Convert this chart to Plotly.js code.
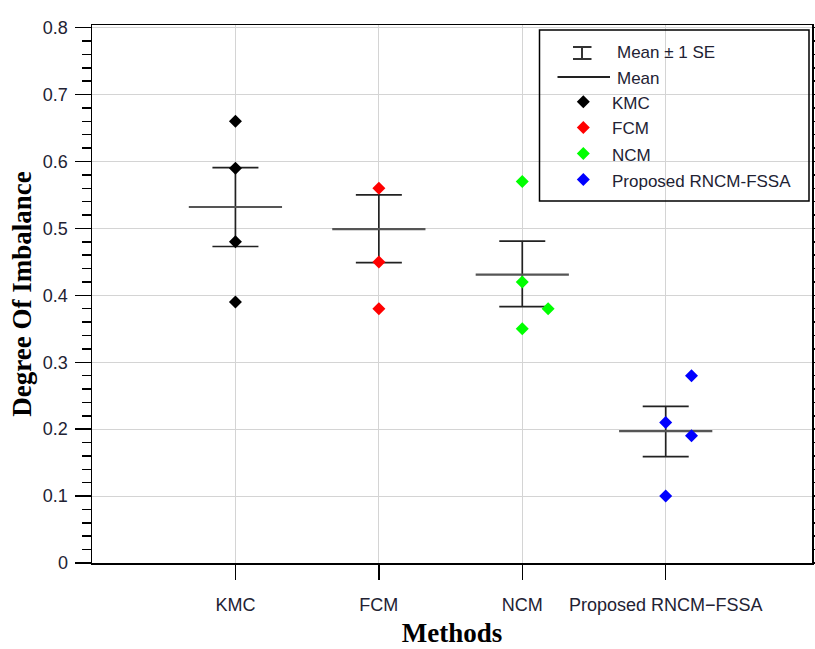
<!DOCTYPE html>
<html><head><meta charset="utf-8">
<script src="https://cdn.plot.ly/plotly-3.0.1.min.js"></script>
<style>html,body{margin:0;padding:0;background:#fff}#chart{width:815px;height:649px}</style>
</head><body><div id="chart"></div>
<script>
// ---- data ----
const categories = ["KMC", "FCM", "NCM", "Proposed RNCM\u2212FSSA"];
const legendNames = ["KMC", "FCM", "NCM", "Proposed RNCM-FSSA"];
const kmcValues = [0.66, 0.59, 0.48, 0.39];
const kmcJitter = [0, 0, 0, 0];
const fcmValues = [0.56, 0.45, 0.38];
const fcmJitter = [0, 0, 0];
const ncmValues = [0.57, 0.42, 0.38, 0.35];
const ncmJitter = [0, 0, 0.18, 0];
const rncmValues = [0.28, 0.21, 0.19, 0.10];
const rncmJitter = [0.18, 0, 0.18, 0];
const meanValues = [0.532, 0.499, 0.431, 0.197];
const seUpper = [0.591, 0.550, 0.481, 0.234];
const seLower = [0.473, 0.449, 0.383, 0.159];
const yTickVals = [0, 0.1, 0.2, 0.3, 0.4, 0.5, 0.6, 0.7, 0.8];
const yTickText = ["0", "0.1", "0.2", "0.3", "0.4", "0.5", "0.6", "0.7", "0.8"];

// ---- styles ----
const colors = ["#000000", "#ff0000", "#00ff00", "#0000ff"];
const sansFont = "Liberation Sans, Arial, sans-serif";
const serifFont = "Liberation Serif, Times New Roman, serif";
const textColor = "#222233";

const series = [
  {vals: kmcValues, jit: kmcJitter},
  {vals: fcmValues, jit: fcmJitter},
  {vals: ncmValues, jit: ncmJitter},
  {vals: rncmValues, jit: rncmJitter}
];

const traces = [];
// mean line + SE error bars
traces.push({
  type: "scatter", mode: "markers",
  x: categories.map((c, i) => i + 1),
  y: meanValues,
  marker: {size: 1, color: "rgba(0,0,0,0)"},
  error_y: {type: "data", symmetric: false,
    array: seUpper.map((u, i) => u - meanValues[i]),
    arrayminus: seLower.map((l, i) => meanValues[i] - l),
    color: "#222222", thickness: 1.7, width: 23},
  error_x: {type: "constant", value: 0.325, color: "#555555", thickness: 2.2, width: 0},
  showlegend: false, hoverinfo: "skip"
});
series.forEach((s, k) => {
  traces.push({
    type: "scatter", mode: "markers", name: legendNames[k],
    x: s.vals.map((v, j) => k + 1 + s.jit[j]),
    y: s.vals,
    marker: {symbol: "diamond", size: 10, color: colors[k]},
    showlegend: false
  });
});

// ---- manual legend (pixel -> paper helpers) ----
const ML = 92, MT = 25, PW = 720, PH = 538;
const px = x => (x - ML) / PW;
const py = y => (MT + PH - y) / PH;
const shapes = [];
const annotations = [];
shapes.push({type: "rect", xref: "paper", yref: "paper", x0: px(539.5), x1: px(809), y0: py(201), y1: py(30),
  line: {color: "#000", width: 1.5}, fillcolor: "rgba(0,0,0,0)", layer: "above"});
// I-beam symbol
shapes.push({type: "line", xref: "paper", yref: "paper", x0: px(582), x1: px(582), y0: py(47), y1: py(59), line: {color: "#333", width: 2}});
shapes.push({type: "line", xref: "paper", yref: "paper", x0: px(573), x1: px(591.5), y0: py(47), y1: py(47), line: {color: "#333", width: 2}});
shapes.push({type: "line", xref: "paper", yref: "paper", x0: px(573), x1: px(591.5), y0: py(59), y1: py(59), line: {color: "#333", width: 2}});
annotations.push({xref: "paper", yref: "paper", x: px(615), y: py(53), xanchor: "left", yanchor: "middle", showarrow: false,
  text: "Mean \u00b1 1 SE", font: {family: sansFont, size: 17, color: textColor}});
// mean line symbol
shapes.push({type: "line", xref: "paper", yref: "paper", x0: px(557.5), x1: px(610), y0: py(77), y1: py(77), line: {color: "#222", width: 2}});
annotations.push({xref: "paper", yref: "paper", x: px(615), y: py(78.5), xanchor: "left", yanchor: "middle", showarrow: false,
  text: "Mean", font: {family: sansFont, size: 17, color: textColor}});
const legendY = [101.7, 127.5, 153.5, 179.5];
legendNames.forEach((n, k) => {
  const cx = 583.3, cy = legendY[k], r = 6.5;
  shapes.push({type: "path", xref: "paper", yref: "paper",
    path: `M ${px(cx - r)} ${py(cy)} L ${px(cx)} ${py(cy - r)} L ${px(cx + r)} ${py(cy)} L ${px(cx)} ${py(cy + r)} Z`,
    fillcolor: colors[k], line: {width: 0}});
  annotations.push({xref: "paper", yref: "paper", x: px(610), y: py(cy + 1.5), xanchor: "left", yanchor: "middle", showarrow: false,
    text: n, font: {family: sansFont, size: 17, color: textColor}});
});

const layout = {
  width: 815, height: 649,
  margin: {l: ML, r: 815 - ML - PW, t: MT, b: 649 - MT - PH, pad: 0},
  paper_bgcolor: "#fff", plot_bgcolor: "#fff",
  showlegend: false,
  xaxis: {
    range: [0, 5.02], tickvals: [1, 2, 3, 4], ticktext: categories,
    showgrid: true, gridcolor: "#d4d4d4", gridwidth: 1, zeroline: false,
    showline: true, linecolor: "#000", linewidth: 1.5, mirror: true,
    ticks: "outside", ticklen: 15, tickwidth: 1.5, tickcolor: "#000",
    ticklabelstandoff: 10,
    tickfont: {family: sansFont, size: 18, color: textColor},
    title: {text: "<b>Methods</b>", standoff: 9, font: {family: serifFont, size: 27, color: "#000"}},
    automargin: false
  },
  yaxis: {
    range: [0, 0.804], tickvals: yTickVals, ticktext: yTickText,
    showgrid: true, gridcolor: "#d4d4d4", gridwidth: 1, zeroline: false,
    showline: true, linecolor: "#000", linewidth: 1.5, mirror: "ticks",
    ticks: "outside", ticklen: 16, tickwidth: 1.5, tickcolor: "#000",
    minor: {dtick: 0.02, ticks: "outside", ticklen: 9, tickwidth: 1.5, tickcolor: "#000", showgrid: false},
    ticklabelstandoff: 3,
    tickfont: {family: sansFont, size: 18, color: textColor},
    title: {text: "<b>Degree Of Imbalance</b>", standoff: 3, font: {family: serifFont, size: 27, color: "#000"}},
    automargin: false
  },
  shapes: shapes,
  annotations: annotations
};

Plotly.newPlot("chart", traces, layout, {displayModeBar: false, staticPlot: true});
</script>
</body></html>
